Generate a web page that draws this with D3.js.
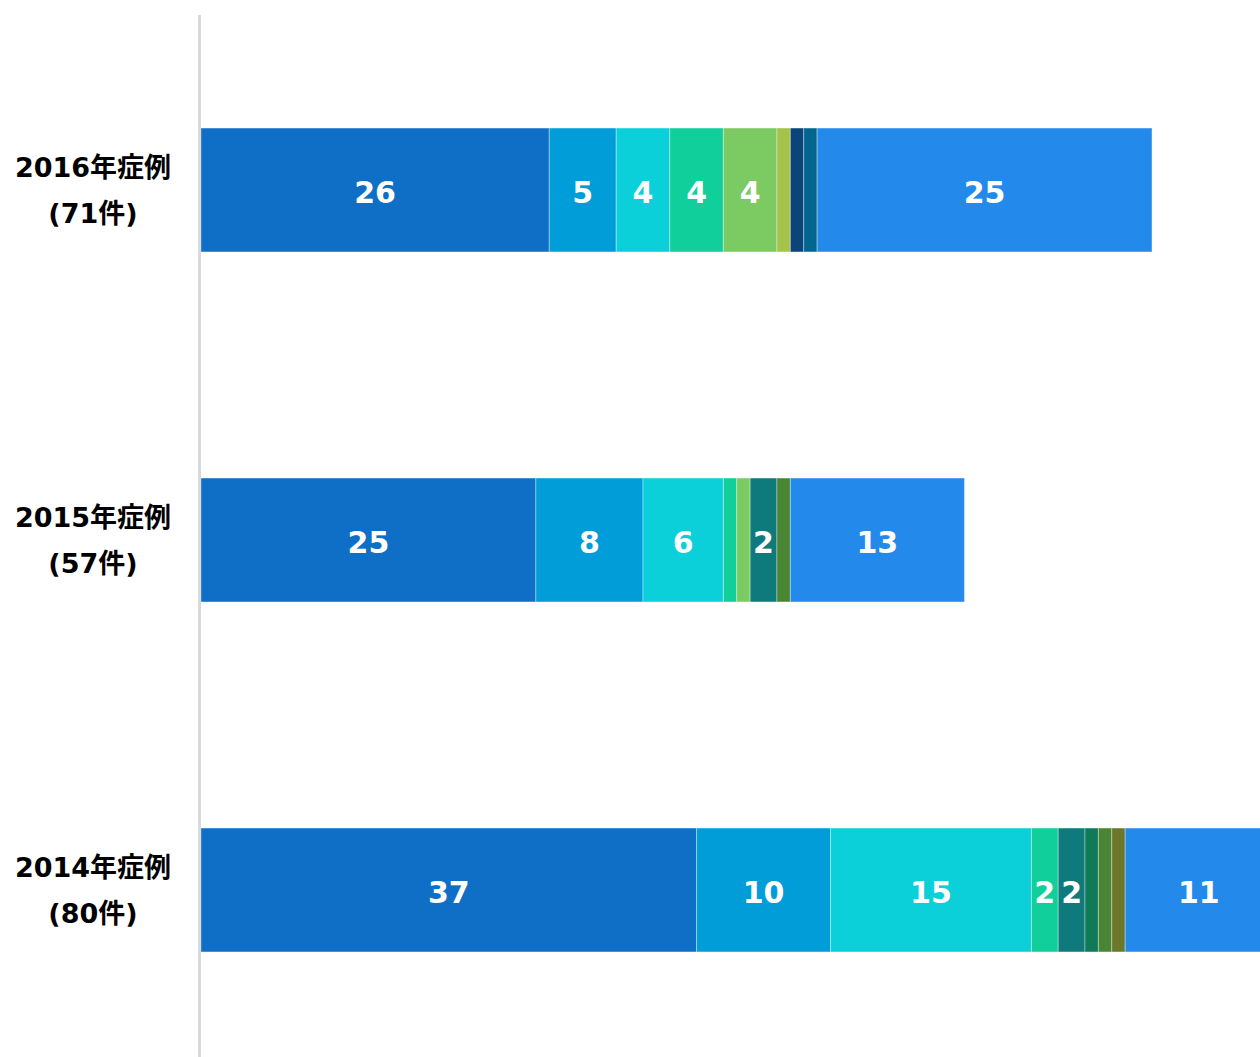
<!DOCTYPE html>
<html><head><meta charset="utf-8">
<script src="https://cdn.jsdelivr.net/npm/d3@7"></script>
<style>html,body{margin:0;padding:0;background:#fff;}svg{display:block;}</style>
</head><body>
<svg id="chart" width="1260" height="1057"></svg>
<script>
const categories = ["2016年症例", "2015年症例", "2014年症例"];
const totals = ["(71件)", "(57件)", "(80件)"];
const seriesNames = ["s1","s2","s3","s4","s5","s6","s7","s8","s9","s10","s11","s12","s13"];
const values2016 = [26, 5, 4, 4, 4, 1, 1, 1, 0, 0, 0, 0, 25];
const values2015 = [25, 8, 6, 1, 1, 0, 0, 0, 2, 0, 1, 0, 13];
const values2014 = [37, 10, 15, 2, 0, 0, 0, 0, 2, 1, 1, 1, 11];
const colors = ["#0F6FC6","#009DD9","#0BD0D9","#10CF9B","#7CCA62","#A5C249",
                "#0B4479","#00668F","#0F7A7B","#107A58","#4A8533","#6B772A","#238AEC"];

const rows = [values2016, values2015, values2014];
const svg = d3.select("#chart");

const y = d3.scaleBand().domain(categories).range([15, 1065]).paddingInner(0.646).paddingOuter(0.323);
const x = d3.scaleLinear().domain([0, 80]).range([201, 1272.5]);

const data = categories.map((c, i) => {
  let acc = 0;
  return rows[i].map((v, j) => { const d = {cat: c, s: j, v, x0: acc, x1: acc + v}; acc += v; return d; }).filter(d => d.v > 0);
});

const g = svg.append("g");
data.forEach(row => {
  const rg = g.append("g");
  rg.selectAll("rect").data(row).join("rect")
    .attr("x", d => x(d.x0)).attr("width", d => x(d.x1) - x(d.x0))
    .attr("y", d => y(d.cat)).attr("height", y.bandwidth())
    .attr("fill", d => colors[d.s])
    .attr("stroke", "rgba(255,255,255,0.35)").attr("stroke-width", 1);
  rg.selectAll("text").data(row.filter(d => d.v >= 2)).join("text")
    .attr("x", d => (x(d.x0) + x(d.x1)) / 2)
    .attr("y", d => y(d.cat) + y.bandwidth() / 2)
    .attr("dy", "0.42em")
    .attr("text-anchor", "middle")
    .attr("fill", "#fff")
    .attr("font-family", "'DejaVu Sans', Verdana, sans-serif")
    .attr("font-weight", "bold")
    .attr("font-size", 30)
    .text(d => d.v);
});

// axis line
svg.append("line").attr("x1", 199.5).attr("x2", 199.5).attr("y1", 15).attr("y2", 1057)
  .attr("stroke", "#d9d9d9").attr("stroke-width", 3);

// category labels
categories.forEach((c, i) => {
  const cy = y(c) + y.bandwidth() / 2;
  const t = svg.append("text")
    .attr("text-anchor", "middle")
    .attr("font-family", "'DejaVu Sans', 'Noto Sans CJK JP', sans-serif")
    .attr("font-weight", "bold").attr("font-size", 27).attr("fill", "#000");
  t.append("tspan").attr("x", 93).attr("y", cy - 13).text(c);
  t.append("tspan").attr("x", 93).attr("y", cy + 33).text(totals[i]);
});
</script>
</body></html>
